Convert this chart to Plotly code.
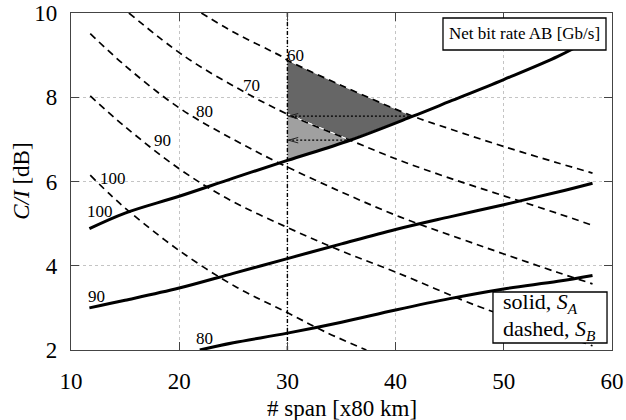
import numpy as np
import plotly.graph_objects as go

# ---------------- data ----------------
# solid curves, S_A (net bit rate labels 100 / 90 / 80)
sa100_x = [11.7, 15, 20, 25, 30, 35.8, 41.6, 45, 50, 55, 58.2]
sa100_y = [4.88, 5.25, 5.65, 6.08, 6.5, 6.98, 7.55, 7.9, 8.42, 8.97, 9.4]
sa90_x = [11.7, 15, 20, 25, 30, 35, 40, 45, 50, 55, 58.2]
sa90_y = [3.0, 3.18, 3.47, 3.82, 4.17, 4.52, 4.86, 5.16, 5.45, 5.75, 5.96]
sa80_x = [21.9, 25, 30, 35, 40, 45, 50, 55, 58.2]
sa80_y = [2.0, 2.17, 2.4, 2.66, 2.95, 3.22, 3.45, 3.63, 3.77]

# dashed curves, S_B (net bit rate labels 60 ... 100)
sb60_x = [22.05, 25, 29.45, 30, 35, 41.6, 45, 50, 55, 58.2]
sb60_y = [10.0, 9.55, 8.97, 8.88, 8.28, 7.55, 7.25, 6.83, 6.44, 6.2]
sb70_x = [15.35, 20.5, 25.7, 30, 35.8, 40.4, 45, 50, 55, 58.2]
sb70_y = [10.0, 8.97, 8.17, 7.6, 6.98, 6.5, 6.08, 5.66, 5.24, 4.96]
sb80_x = [11.78, 15, 20.04, 25, 29.3, 35, 40.4, 45.9, 50, 55, 58.2]
sb80_y = [9.51, 8.75, 7.74, 7.0, 6.43, 5.75, 5.16, 4.65, 4.28, 3.84, 3.57]
sb90_x = [11.78, 15, 19.9, 24.4, 29.9, 35, 40, 47.5, 52, 58.2]
sb90_y = [8.03, 7.3, 6.32, 5.6, 4.92, 4.35, 3.85, 3.05, 2.65, 2.1]
sb100_x = [11.78, 13.7, 15.6, 20, 25.3, 29.9, 33.5, 37.3]
sb100_y = [6.15, 5.67, 5.24, 4.36, 3.49, 2.9, 2.43, 2.0]

sa_labels = ["100", "90", "80"]
sb_labels = ["60", "70", "80", "90", "100"]

span_limit = 30            # vertical reference line
x_ticks = [10, 20, 30, 40, 50, 60]
y_ticks = [2, 4, 6, 8, 10]

# ---------------- layout constants ----------------
FONT = "Liberation Serif"
W, H = 626, 420
ML, MR, MT, MB = 71, 14, 13, 70

fig = go.Figure()

def f(xa, ya, xs):
    return np.interp(xs, xa, ya)

# ---- shaded regions ----
xs = np.linspace(span_limit, 58, 4000)
d60 = f(sb60_x, sb60_y, xs) - f(sa100_x, sa100_y, xs)
d70 = f(sb70_x, sb70_y, xs) - f(sa100_x, sa100_y, xs)
x60c = xs[np.argmax(d60 <= 0)]
x70c = xs[np.argmax(d70 <= 0)]
y60c = float(f(sa100_x, sa100_y, x60c))
y70c = float(f(sa100_x, sa100_y, x70c))

xd = np.linspace(span_limit, x60c, 300)
up = f(sb60_x, sb60_y, xd)
lo = np.maximum(f(sb70_x, sb70_y, xd), f(sa100_x, sa100_y, xd))
fig.add_trace(go.Scatter(x=np.r_[xd, xd[::-1]], y=np.r_[up, lo[::-1]], fill="toself",
                         fillcolor="#666666", mode="lines", line=dict(color="white", width=1),
                         hoverinfo="skip", showlegend=False))
xl = np.linspace(span_limit, x70c, 300)
up = f(sb70_x, sb70_y, xl)
lo = f(sa100_x, sa100_y, xl)
fig.add_trace(go.Scatter(x=np.r_[xl, xl[::-1]], y=np.r_[up, lo[::-1]], fill="toself",
                         fillcolor="#a0a0a0", mode="lines", line=dict(color="white", width=1),
                         hoverinfo="skip", showlegend=False))

# ---- dashed curves ----
for xa, ya in [(sb60_x, sb60_y), (sb70_x, sb70_y), (sb80_x, sb80_y), (sb90_x, sb90_y), (sb100_x, sb100_y)]:
    fig.add_trace(go.Scatter(x=xa, y=ya, mode="lines", line=dict(color="black", width=1.7, dash="7px,5px"),
                             line_shape="spline", hoverinfo="skip", showlegend=False))

# ---- solid curves ----
for xa, ya in [(sa100_x, sa100_y), (sa90_x, sa90_y), (sa80_x, sa80_y)]:
    fig.add_trace(go.Scatter(x=xa, y=ya, mode="lines", line=dict(color="black", width=3),
                             line_shape="spline", hoverinfo="skip", showlegend=False))

# ---- vertical line at span limit ----
fig.add_trace(go.Scatter(x=[span_limit, span_limit], y=[y_ticks[0], y_ticks[-1]], mode="lines",
                         line=dict(color="black", width=1.4, dash="4px,2px,1px,2px"),
                         hoverinfo="skip", showlegend=False))

# ---- arrows (dotted horizontal with open heads) ----
for xc, yc in [(x60c, y60c), (x70c, y70c)]:
    fig.add_trace(go.Scatter(x=[xc, span_limit + 0.1], y=[yc, yc], mode="lines",
                             line=dict(color="black", width=1.2, dash="2px,2px"),
                             hoverinfo="skip", showlegend=False))
    fig.add_trace(go.Scatter(x=[span_limit + 1.0, span_limit + 0.1, span_limit + 1.0],
                             y=[yc + 0.065, yc, yc - 0.065], mode="lines",
                             line=dict(color="#222", width=1),
                             hoverinfo="skip", showlegend=False))

# ---- curve labels ----
sa_pos = [(12.65, 5.28), (12.4, 3.27), (22.3, 2.27)]
sb_pos = [(30.75, 9.0), (26.7, 8.29), (22.35, 7.67), (18.5, 6.98), (13.9, 6.08)]
for txt, (px, py) in zip(sa_labels + sb_labels, sa_pos + sb_pos):
    fig.add_annotation(x=px, y=py, text=txt, showarrow=False, xanchor="center", yanchor="middle",
                       font=dict(family=FONT, size=17, color="black"))

# ---- boxes ----
fig.add_shape(type="rect", xref="paper", yref="paper", x0=0.6876, x1=0.9889, y0=0.8902, y1=0.9852,
              fillcolor="white", line=dict(color="black", width=1.3), layer="above")
fig.add_annotation(xref="paper", yref="paper", x=0.839, y=0.9377, xanchor="center", yanchor="middle",
                   text="Net bit rate AB [Gb/s]",
                   showarrow=False, font=dict(family=FONT, size=17, color="black"))
fig.add_shape(type="rect", xref="paper", yref="paper", x0=0.78, x1=0.9908, y0=0.0208, y1=0.1721,
              fillcolor="white", line=dict(color="black", width=1.3), layer="above")
fig.add_annotation(xref="paper", yref="paper", x=0.795, y=0.138, xanchor="left", yanchor="middle",
                   text="solid, <i>S<sub>A</sub></i>", showarrow=False,
                   font=dict(family=FONT, size=22, color="black"))
fig.add_annotation(xref="paper", yref="paper", x=0.795, y=0.058, xanchor="left", yanchor="middle",
                   text="dashed, <i>S<sub>B</sub></i>", showarrow=False,
                   font=dict(family=FONT, size=22, color="black"))

# ---- axis titles ----
fig.add_annotation(xref="paper", yref="paper", x=0.5, y=-0.175, xanchor="center", yanchor="middle",
                   text="# span [x80 km]", showarrow=False,
                   font=dict(family=FONT, size=23, color="black"))
fig.add_annotation(xref="paper", yref="paper", x=-0.092, y=0.5, xanchor="center", yanchor="middle",
                   textangle=-90, text="<i>C/I</i> [dB]", showarrow=False,
                   font=dict(family=FONT, size=23, color="black"))

axis_common = dict(showline=True, linecolor="#444", linewidth=1.4, mirror="ticks",
                   ticks="inside", ticklen=8, tickcolor="#444", tickwidth=1.2,
                   showgrid=True, gridcolor="#c4c4c4", griddash="dot", gridwidth=1,
                   zeroline=False, automargin=False,
                   tickfont=dict(family=FONT, size=23, color="black"))
fig.update_xaxes(range=[10, 60], tickvals=x_ticks, ticklabelstandoff=10, **axis_common)
fig.update_yaxes(range=[2, 10], tickvals=y_ticks, ticklabelstandoff=8, **axis_common)

fig.update_layout(width=W, height=H, margin=dict(l=ML, r=MR, t=MT, b=MB, autoexpand=False),
                  plot_bgcolor="white", paper_bgcolor="white", showlegend=False)

fig.write_html("out.html")
